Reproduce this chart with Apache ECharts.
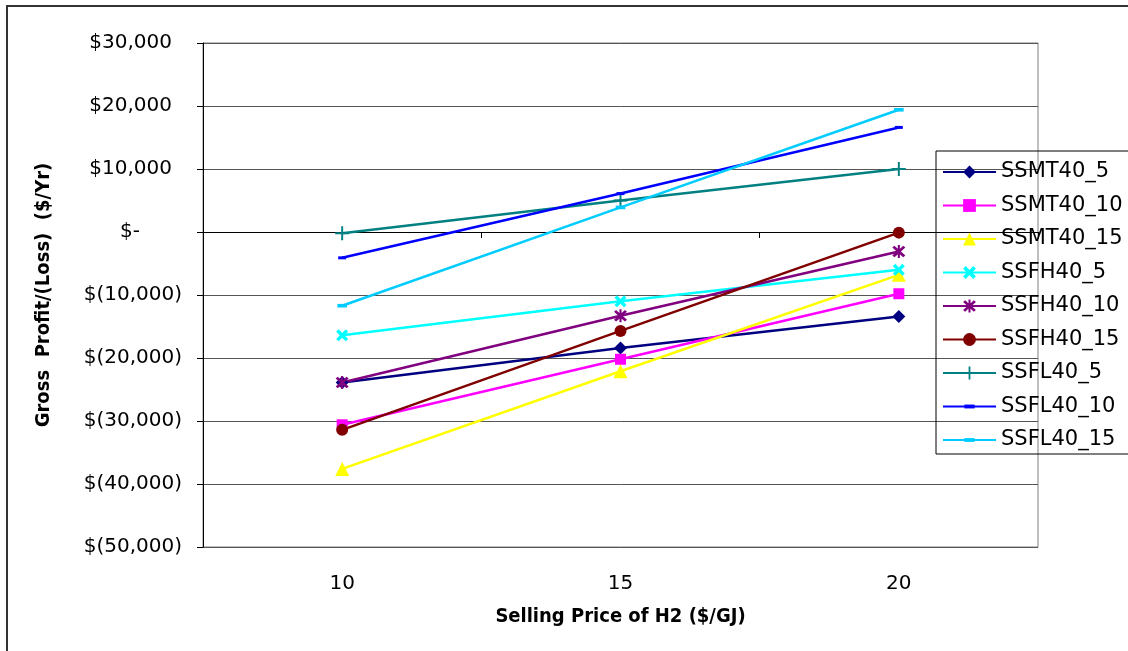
<!DOCTYPE html>
<html>
<head>
<meta charset="utf-8">
<script src="https://cdn.jsdelivr.net/npm/echarts@6/dist/echarts.min.js"></script>
<style>
  html, body { margin: 0; padding: 0; background: #fff; }
  #chart { width: 1128px; height: 651px; }
</style>
</head>
<body>
<div id="chart"></div>
<script>
// ---- data ----
const categories = ['10', '15', '20'];
const seriesNames = ['SSMT40_5', 'SSMT40_10', 'SSMT40_15', 'SSFH40_5', 'SSFH40_10', 'SSFH40_15', 'SSFL40_5', 'SSFL40_10', 'SSFL40_15'];
const SSMT40_5  = [-23900, -18400, -13400];
const SSMT40_10 = [-30600, -20200, -9800];
const SSMT40_15 = [-37600, -22100, -6800];
const SSFH40_5  = [-16400, -11000, -6000];
const SSFH40_10 = [-23900, -13300, -3100];
const SSFH40_15 = [-31400, -15700, -100];
const SSFL40_5  = [-200, 5000, 10000];
const SSFL40_10 = [-4100, 6100, 16600];
const SSFL40_15 = [-11700, 3900, 19400];
const yMin = -50000, yMax = 30000, yStep = 10000;

// ---- styles ----
const FONT = 'DejaVu Sans';
const TITLE_FONT = '"DejaVu Sans Condensed", "Liberation Sans Narrow", sans-serif';
const X_SYM = 'path://M0,2 L2,0 L5,3 L8,0 L10,2 L7,5 L10,8 L8,10 L5,7 L2,10 L0,8 L3,5 Z';
const AST_SYM = 'path://M0,2.2 L1.6,0.6 L5,4 L8.4,0.6 L10,2.2 L6.6,5.6 L10,9 L8.4,10.6 L5,7.2 L1.6,10.6 L0,9 L3.4,5.6 Z M4.2,0 L5.8,0 L5.8,11.2 L4.2,11.2 Z';
const PLUS_SYM = 'path://M4.3,0 L5.7,0 L5.7,4.3 L10,4.3 L10,5.7 L5.7,5.7 L5.7,10 L4.3,10 L4.3,5.7 L0,5.7 L0,4.3 L4.3,4.3 Z';
const DASH_SYM = 'path://M0,0 M10,10 M1,3.5 L9,3.5 L9,6.5 L1,6.5 Z';

const styles = [
  { color: '#000080', symbol: 'diamond', size: 13 },
  { color: '#FF00FF', symbol: 'rect', size: 11 },
  { color: '#FFFF00', symbol: 'triangle', size: 14 },
  { color: '#00FFFF', symbol: X_SYM, size: 12 },
  { color: '#800080', symbol: AST_SYM, size: 13 },
  { color: '#800000', symbol: 'circle', size: 12 },
  { color: '#008080', symbol: PLUS_SYM, size: 14 },
  { color: '#0000FF', symbol: DASH_SYM, size: 10 },
  { color: '#00CCFF', symbol: DASH_SYM, size: 12 }
];
const allData = [SSMT40_5, SSMT40_10, SSMT40_15, SSFH40_5, SSFH40_10, SSFH40_15, SSFL40_5, SSFL40_10, SSFL40_15];

function moneyLabel(v) {
  if (v === 0) return '{z|$-}';
  const s = Math.abs(v).toLocaleString('en-US');
  return v < 0 ? '{n|$(' + s + ')}' : '{p|$' + s + '}';
}

const labelBase = { fontFamily: FONT, fontSize: 20, color: '#000' };

const chart = echarts.init(document.getElementById('chart'), null, { renderer: 'canvas' });
chart.setOption({
  animation: false,
  backgroundColor: '#fff',
  graphic: [{
    type: 'rect', silent: true, z: 100,
    shape: { x: 7, y: 6, width: 1200, height: 700 },
    style: { fill: 'none', stroke: '#333', lineWidth: 2 }
  }],
  grid: {
    left: 203, right: 90, top: 43, bottom: 104,
    show: true, borderColor: '#808080', borderWidth: 1, backgroundColor: 'transparent'
  },
  legend: {
    orient: 'vertical',
    left: 936, top: 151,
    padding: [10, 12, 3, 6],
    itemWidth: 53, itemHeight: 16, itemGap: 11.5,
    borderColor: '#000', borderWidth: 1,
    textStyle: { fontFamily: FONT, fontSize: 21, lineHeight: 22, color: '#000' },
    data: seriesNames
  },
  xAxis: {
    type: 'category',
    data: categories,
    boundaryGap: true,
    name: 'Selling Price of H2 ($/GJ)',
    nameLocation: 'middle',
    nameGap: 60,
    nameTextStyle: { fontFamily: TITLE_FONT, fontWeight: 'bold', fontSize: 20, color: '#000' },
    axisLine: { show: true, lineStyle: { color: '#000', width: 1 } },
    axisTick: { show: true, inside: false, length: 6, interval: 0, lineStyle: { color: '#000' } },
    axisLabel: { margin: 27, fontFamily: FONT, fontSize: 20, color: '#000' },
    splitLine: { show: false }
  },
  yAxis: {
    type: 'value',
    min: yMin, max: yMax, interval: yStep,
    name: 'Gross  Profit/(Loss)  ($/Yr)',
    nameLocation: 'middle',
    nameGap: 149,
    nameRotate: 90,
    nameTextStyle: { fontFamily: TITLE_FONT, fontWeight: 'bold', fontSize: 20, color: '#000' },
    axisLine: { show: true, lineStyle: { color: '#000', width: 1 } },
    axisTick: { show: true, inside: false, length: 6, lineStyle: { color: '#000' } },
    axisLabel: {
      margin: 21,
      formatter: moneyLabel,
      rich: {
        n: Object.assign({}, labelBase),
        p: Object.assign({ padding: [0, 10, 0, 0] }, labelBase),
        z: Object.assign({ padding: [0, 42, 0, 0] }, labelBase)
      }
    },
    splitLine: { show: true, lineStyle: { color: '#555', width: 1 } }
  },
  series: seriesNames.map((name, i) => ({
    name: name,
    type: 'line',
    data: allData[i],
    symbol: styles[i].symbol,
    symbolSize: styles[i].size,
    showAllSymbol: true,
    color: styles[i].color,
    itemStyle: { color: styles[i].color },
    lineStyle: { color: styles[i].color, width: 2.5 },
    emphasis: { disabled: true }
  }))
});
</script>
</body>
</html>
